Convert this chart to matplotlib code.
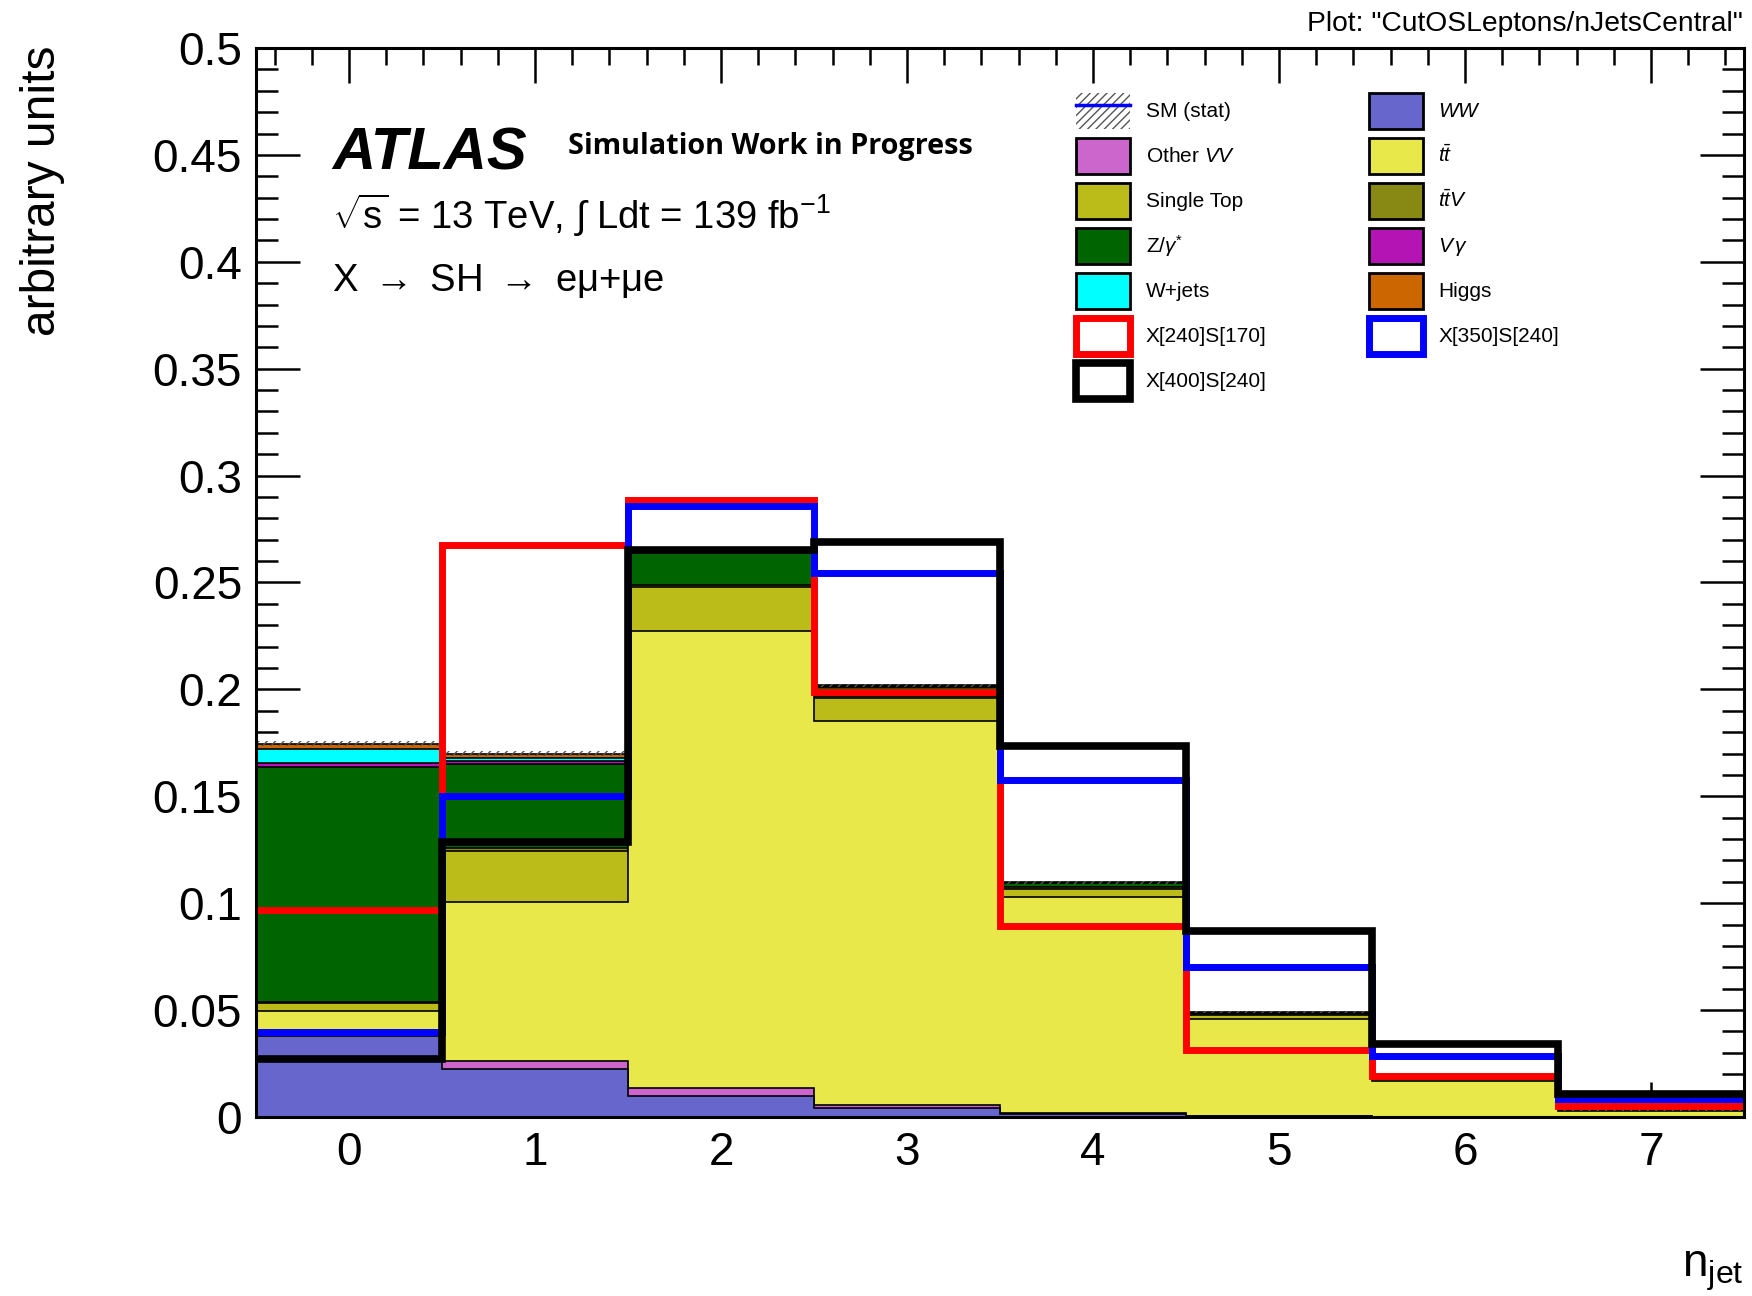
import numpy as np
import matplotlib
matplotlib.use("Agg")
import matplotlib.pyplot as plt
from matplotlib.patches import Patch
from matplotlib.lines import Line2D
from matplotlib.ticker import MultipleLocator

plt.rcParams['font.family'] = ['Liberation Sans', 'DejaVu Sans']
plt.rcParams['mathtext.fontset'] = 'custom'
plt.rcParams['mathtext.rm'] = 'Liberation Sans'
plt.rcParams['mathtext.it'] = 'Liberation Sans:italic'
plt.rcParams['mathtext.bf'] = 'Liberation Sans:bold'

# ---- data: normalised n_jet distributions ----
njet = [0, 1, 2, 3, 4, 5, 6, 7]

# background components (stacked bottom -> top)
ww       = [0.0380, 0.0224, 0.0100, 0.0040, 0.0015, 0.0005, 0.0001, 0.0000]
other_vv = [0.0025, 0.0040, 0.0035, 0.0015, 0.0005, 0.0002, 0.0001, 0.0000]
ttbar    = [0.0090, 0.0742, 0.2138, 0.1795, 0.1007, 0.0451, 0.0168, 0.0028]
single_t = [0.0040, 0.0240, 0.0207, 0.0110, 0.0038, 0.0017, 0.0006, 0.0002]
ttv      = [0.0003, 0.0014, 0.0010, 0.0010, 0.0010, 0.0007, 0.0003, 0.0001]
zgamma   = [0.1100, 0.0390, 0.0148, 0.0040, 0.0018, 0.0006, 0.0002, 0.0001]
vgamma   = [0.0020, 0.0015, 0.0003, 0.0002, 0.0001, 0.0000, 0.0000, 0.0000]
wjets    = [0.0062, 0.0015, 0.0003, 0.0002, 0.0001, 0.0000, 0.0000, 0.0000]
higgs    = [0.0025, 0.0020, 0.0006, 0.0005, 0.0003, 0.0002, 0.0001, 0.0000]
sm_stat  = [0.0012, 0.0012, 0.0010, 0.0008, 0.0006, 0.0004, 0.0003, 0.0002]

# signal hypotheses
sig_240_170 = [0.0970, 0.2675, 0.2888, 0.1987, 0.0892, 0.0315, 0.0190, 0.0050]
sig_350_240 = [0.0398, 0.1500, 0.2858, 0.2543, 0.1577, 0.0700, 0.0287, 0.0084]
sig_400_240 = [0.0270, 0.1287, 0.2650, 0.2690, 0.1735, 0.0872, 0.0341, 0.0107]

components = [
    (ww,       '#6666CC', r'$\it{WW}$'),
    (other_vv, '#CC66CC', r'Other $\it{VV}$'),
    (ttbar,    '#E8E84A', r'$\it{t\bar{t}}$'),
    (single_t, '#BBBB19', 'Single Top'),
    (ttv,      '#888814', r'$\it{t\bar{t}V}$'),
    (zgamma,   '#006400', r'Z/$\gamma^{*}$'),
    (vgamma,   '#B414B4', r'$\it{V\,\gamma}$'),
    (wjets,    '#00FFFF', 'W+jets'),
    (higgs,    '#CC6600', 'Higgs'),
]
signals = [
    (sig_240_170, '#FF0000', 'X[240]S[170]'),
    (sig_350_240, '#0000FF', 'X[350]S[240]'),
    (sig_400_240, '#000000', 'X[400]S[240]'),
]

edges = np.arange(len(njet) + 1) - 0.5

fig = plt.figure(figsize=(17.52, 12.96), dpi=100)
ax = fig.add_axes([256 / 1752, 1 - 1117 / 1296, 1488 / 1752, 1069 / 1296])

# stacked backgrounds: draw cumulative totals from the top down
cum = np.cumsum(np.array([c[0] for c in components]), axis=0)
for i in range(len(components) - 1, -1, -1):
    ax.stairs(cum[i], edges, baseline=0, fill=True,
              facecolor=components[i][1], edgecolor='black', linewidth=1.2, zorder=2)

sm_total = cum[-1]
err = np.array(sm_stat)
ax.stairs(sm_total + err, edges, baseline=sm_total - err, fill=True,
          facecolor='none', edgecolor='#555555', hatch='////', linewidth=0, zorder=3)

# signal outlines
sig_lw = {'#FF0000': 5.0, '#0000FF': 5.0, '#000000': 5.5}
for vals, col, lab in signals:
    ax.stairs(vals, edges, baseline=None, color=col, linewidth=sig_lw[col], zorder=4)

ax.set_xlim(-0.5, 7.5)
ax.set_ylim(0, 0.5)
ax.xaxis.set_major_locator(MultipleLocator(1))
ax.xaxis.set_minor_locator(MultipleLocator(0.2))
ax.yaxis.set_major_locator(MultipleLocator(0.05))
ax.yaxis.set_minor_locator(MultipleLocator(0.01))
ax.yaxis.set_major_formatter(matplotlib.ticker.FuncFormatter(
    lambda v, p: '0' if abs(v) < 1e-9 else ('%g' % round(v, 3))))
ax.tick_params(axis='both', which='both', direction='in', top=True, right=True,
               width=1.8, labelsize=33, zorder=6)
ax.tick_params(axis='x', which='major', length=25, pad=10)
ax.tick_params(axis='x', which='minor', length=12)
ax.tick_params(axis='y', which='major', length=32, pad=10)
ax.tick_params(axis='y', which='minor', length=16)
for s in ax.spines.values():
    s.set_linewidth(2.2)
    s.set_zorder(6)

# legend: two columns, ROOT-style boxes
handles, labels = [], []
sm_handle = (Patch(facecolor='white', edgecolor='#555555', hatch='////', linewidth=0),
             Line2D([], [], color='#0000FF', linewidth=2.5))
col1 = [(sm_handle, 'SM (stat)')]
for idx in (1, 3, 5, 7):
    col1.append((Patch(facecolor=components[idx][1], edgecolor='black', linewidth=2),
                 components[idx][2]))
col1.append((Patch(facecolor='white', edgecolor='#FF0000', linewidth=5), signals[0][2]))
col1.append((Patch(facecolor='white', edgecolor='#000000', linewidth=5.5), signals[2][2]))
col2 = []
for idx in (0, 2, 4, 6, 8):
    col2.append((Patch(facecolor=components[idx][1], edgecolor='black', linewidth=2),
                 components[idx][2]))
col2.append((Patch(facecolor='white', edgecolor='#0000FF', linewidth=5), signals[1][2]))
for h, l in col1 + col2:
    handles.append(h)
    labels.append(l)

leg = ax.legend(handles, labels, ncol=2, loc='upper left',
                bbox_to_anchor=(0.551, 0.958), frameon=False, fontsize=15,
                handlelength=2.6, handleheight=2.3, labelspacing=0.42,
                handletextpad=0.75, columnspacing=4.9, borderpad=0, borderaxespad=0)
leg.set_zorder(7)

# annotations
ax.text(0.051, 0.886, 'ATLAS', transform=ax.transAxes, fontsize=43,
        fontweight='bold', fontstyle='italic', va='baseline', ha='left')
ax.text(0.2097, 0.901, 'Simulation Work in Progress', transform=ax.transAxes,
        fontsize=20.8, fontweight='bold', family=['Open Sans', 'DejaVu Sans'],
        va='baseline', ha='left')
ax.text(0.051, 0.831, r'$\sqrt{\mathrm{s}}$ = 13 TeV, $\int$ Ldt = 139 fb$^{\mathregular{-1}}$',
        transform=ax.transAxes, fontsize=27.5, va='baseline', ha='left')
ax.text(0.051, 0.773, r'X $\rightarrow$ SH $\rightarrow$ e$\mathrm{\mu}$+$\mathrm{\mu}$e',
        transform=ax.transAxes, fontsize=27.5, va='baseline', ha='left')

fig.text(0.024, 0.965, 'arbitrary units', rotation=90, fontsize=34.5,
         ha='center', va='top')
fig.text(0.995, 0.0147, r'n$_{\mathrm{jet}}$', fontsize=33, ha='right', va='baseline')
fig.text(0.995, 0.976, 'Plot: "CutOSLeptons/nJetsCentral"', fontsize=20.3,
         ha='right', va='baseline')

fig.savefig('out.png', dpi=100, facecolor='white')
